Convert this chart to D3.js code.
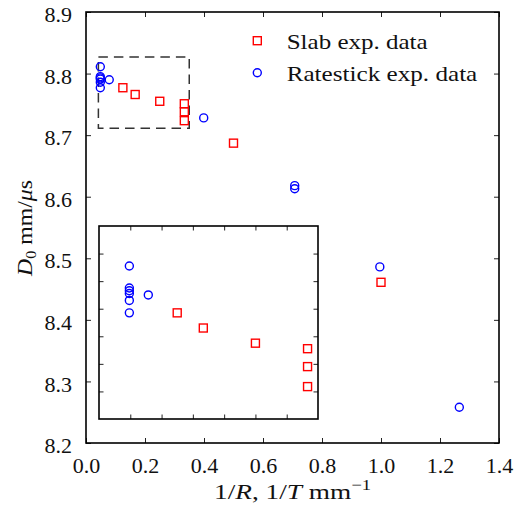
<!DOCTYPE html>
<html>
<head>
<meta charset="utf-8">
<script src="https://cdn.jsdelivr.net/npm/d3@7"></script>
<style>
  html, body { margin: 0; padding: 0; background: #fff; }
  svg { display: block; }
  text { font-family: "Liberation Serif", "Times New Roman", serif; fill: #111; }
</style>
</head>
<body>
<svg id="chart" width="518" height="508"></svg>
<script>
// Slab experiments: inverse half-thickness vs. detonation speed
const slabInv = [0.125, 0.1667, 0.25, 0.3333, 0.3333, 0.3333, 0.5, 1.0];
const slabD   = [8.777, 8.766, 8.755, 8.751, 8.738, 8.7235, 8.687, 8.461];

// Rate-stick experiments: inverse radius vs. detonation speed
const rateInv = [0.0485, 0.0485, 0.0485, 0.0485, 0.0485, 0.0485, 0.0788, 0.399, 0.7075, 0.7075, 0.996, 1.2655];
const rateD   = [8.811, 8.795, 8.793, 8.791, 8.786, 8.777, 8.790, 8.728, 8.618, 8.613, 8.486, 8.258];

// Tick values
const xTicks = [0.0, 0.2, 0.4, 0.6, 0.8, 1.0, 1.2, 1.4];
const yTicks = [8.2, 8.3, 8.4, 8.5, 8.6, 8.7, 8.8, 8.9];
const insetXTicks = [0.05, 0.10, 0.15, 0.20, 0.25, 0.30];
const insetYTicks = [8.72, 8.74, 8.76, 8.78, 8.80, 8.82];

// Zoom window marked on the main axes, and the inset's own limits
const zoomX = [0.042, 0.35];
const zoomY = [8.711, 8.827];
const insetXDomain = [0, 0.35];
const insetYDomain = [8.70, 8.84];

const legendLabels = ["Slab exp. data", "Ratestick exp. data"];

const RED = "#ff0000", BLUE = "#0000ff";

const svg = d3.select("#chart");

const x = d3.scaleLinear().domain([0, 1.4]).range([86, 499]);
const y = d3.scaleLinear().domain([8.2, 8.9]).range([443, 12]);

const slab = slabInv.map((v, i) => ({ x: v, d: slabD[i] }));
const rate = rateInv.map((v, i) => ({ x: v, d: rateD[i] }));

function drawAxes(g, sx, sy, xt, yt, tick, labelled) {
  const [x0, x1] = sx.range();
  const [y0, y1] = sy.range(); // y0 bottom, y1 top
  const bottom = d3.axisBottom(sx).tickValues(xt).tickSize(-tick).tickSizeOuter(0)
    .tickPadding(labelled ? 14.5 : 0).tickFormat(labelled ? d3.format(".1f") : () => "");
  const top = d3.axisTop(sx).tickValues(xt).tickSize(-tick).tickSizeOuter(0).tickFormat(() => "");
  const left = d3.axisLeft(sy).tickValues(yt).tickSize(-tick).tickSizeOuter(0)
    .tickPadding(labelled ? 14 : 0).tickFormat(labelled ? d3.format(".1f") : () => "");
  const right = d3.axisRight(sy).tickValues(yt).tickSize(-tick).tickSizeOuter(0).tickFormat(() => "");

  const gb = g.append("g").attr("transform", `translate(0,${y0})`).call(bottom);
  const gt = g.append("g").attr("transform", `translate(0,${y1})`).call(top);
  const gl = g.append("g").attr("transform", `translate(${x0},0)`).call(left);
  const gr = g.append("g").attr("transform", `translate(${x1},0)`).call(right);

  [gb, gt, gl, gr].forEach(a => {
    a.attr("font-family", null);
    a.select(".domain").remove();
    a.selectAll(".tick line").attr("stroke", "#222").attr("stroke-width", 1);
    a.selectAll(".tick text").attr("font-size", 22).attr("fill", "#111");
  });
  gl.selectAll(".tick text").attr("dy", "0.44em");

  // frame
  g.append("rect")
    .attr("x", x0).attr("y", y1)
    .attr("width", x1 - x0).attr("height", y0 - y1)
    .attr("fill", "none").attr("stroke", "#000").attr("stroke-width", 1.6);
}

function drawSquares(g, data, sx, sy) {
  const s = 8;
  g.selectAll(null).data(data).enter().append("rect")
    .attr("x", d => sx(d.x) - s / 2).attr("y", d => sy(d.d) - s / 2)
    .attr("width", s).attr("height", s)
    .attr("fill", "none").attr("stroke", RED).attr("stroke-width", 1.4);
}

function drawCircles(g, data, sx, sy) {
  g.selectAll(null).data(data).enter().append("circle")
    .attr("cx", d => sx(d.x)).attr("cy", d => sy(d.d)).attr("r", 4)
    .attr("fill", "none").attr("stroke", BLUE).attr("stroke-width", 1.4);
}

// ---- main axes ----
const main = svg.append("g");
main.append("rect").attr("x", 86).attr("y", 12).attr("width", 413).attr("height", 431).attr("fill", "#fff");

// dashed zoom window
main.append("rect")
  .attr("x", x(zoomX[0])).attr("y", y(zoomY[1]))
  .attr("width", x(zoomX[1]) - x(zoomX[0]))
  .attr("height", y(zoomY[0]) - y(zoomY[1]))
  .attr("fill", "none").attr("stroke", "#333").attr("stroke-width", 1.5)
  .attr("stroke-dasharray", "9.5,6");

drawSquares(main, slab, x, y);
drawCircles(main, rate, x, y);
drawAxes(main, x, y, xTicks, yTicks, 5, true);

// axis titles
const xt = svg.append("text")
  .attr("x", 292.5).attr("y", 498.5)
  .attr("text-anchor", "middle").attr("font-size", 22)
  .attr("textLength", 157).attr("lengthAdjust", "spacingAndGlyphs");
xt.append("tspan").text("1/");
xt.append("tspan").attr("font-style", "italic").text("R");
xt.append("tspan").text(", 1/");
xt.append("tspan").attr("font-style", "italic").text("T");
xt.append("tspan").text(" mm");
xt.append("tspan").attr("font-size", 15).attr("dy", -9).text("\u22121");

const yt = svg.append("text")
  .attr("transform", "translate(32,228) rotate(-90)")
  .attr("text-anchor", "middle").attr("font-size", 22)
  .attr("textLength", 96).attr("lengthAdjust", "spacingAndGlyphs");
yt.append("tspan").attr("font-style", "italic").text("D");
yt.append("tspan").attr("font-size", 15).attr("dy", 4).text("0");
yt.append("tspan").attr("dy", -4).text(" mm/");
yt.append("tspan").attr("font-style", "italic").text("\u03bc");
yt.append("tspan").text("s");

// legend
const legend = svg.append("g");
const legRows = [{ y: 40.7, kind: "square" }, { y: 72.7, kind: "circle" }];
legRows.forEach((r, i) => {
  if (r.kind === "square") {
    legend.append("rect").attr("x", 257.3 - 4).attr("y", r.y - 4).attr("width", 8).attr("height", 8)
      .attr("fill", "none").attr("stroke", RED).attr("stroke-width", 1.4);
  } else {
    legend.append("circle").attr("cx", 257.3).attr("cy", r.y).attr("r", 4)
      .attr("fill", "none").attr("stroke", BLUE).attr("stroke-width", 1.4);
  }
  legend.append("text")
    .attr("x", 286.7).attr("y", r.y + 8.5)
    .attr("font-size", 22)
    .attr("textLength", i === 0 ? 141 : 190.6).attr("lengthAdjust", "spacingAndGlyphs")
    .text(legendLabels[i]);
});

// ---- inset axes ----
const ix = d3.scaleLinear().domain(insetXDomain).range([99, 318]);
const iy = d3.scaleLinear().domain(insetYDomain).range([419, 226]);
const inset = svg.append("g");
inset.append("rect").attr("x", 99).attr("y", 226).attr("width", 219).attr("height", 193).attr("fill", "#fff");
drawSquares(inset, slab.filter(d => d.x <= insetXDomain[1]), ix, iy);
drawCircles(inset, rate.filter(d => d.x <= insetXDomain[1]), ix, iy);
drawAxes(inset, ix, iy, insetXTicks, insetYTicks, 4.5, false);
</script>
</body>
</html>
